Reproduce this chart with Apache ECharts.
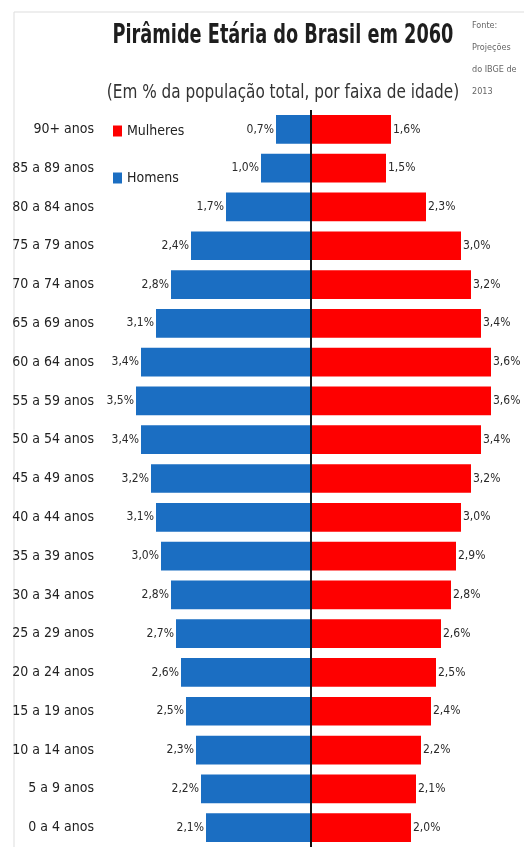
<!DOCTYPE html>
<html lang="pt">
<head>
	<meta charset="UTF-8">
	<title>Pirâmide Etária do Brasil em 2060</title>
	<script src="https://cdn.jsdelivr.net/npm/echarts@6/dist/echarts.min.js"></script>
	<style>
		html, body { margin: 0; padding: 0; background: #fff; }
		#chart { width: 524px; height: 847px; }
	</style>
</head>
<body>
	<div id="chart"></div>
	<script>
		// faixas de idade, de cima para baixo
		var faixas = ['90+ anos', '85 a 89 anos', '80 a 84 anos', '75 a 79 anos', '70 a 74 anos',
			'65 a 69 anos', '60 a 64 anos', '55 a 59 anos', '50 a 54 anos', '45 a 49 anos',
			'40 a 44 anos', '35 a 39 anos', '30 a 34 anos', '25 a 29 anos', '20 a 24 anos',
			'15 a 19 anos', '10 a 14 anos', '5 a 9 anos', '0 a 4 anos'];
		var homens = [0.7, 1.0, 1.7, 2.4, 2.8, 3.1, 3.4, 3.5, 3.4, 3.2, 3.1, 3.0, 2.8, 2.7, 2.6, 2.5, 2.3, 2.2, 2.1];
		var mulheres = [1.6, 1.5, 2.3, 3.0, 3.2, 3.4, 3.6, 3.6, 3.4, 3.2, 3.0, 2.9, 2.8, 2.6, 2.5, 2.4, 2.2, 2.1, 2.0];

		var fonte = "'Liberation Sans Narrow', 'DejaVu Sans Condensed', 'Roboto Condensed', 'Noto Sans', sans-serif";

		function pct(v) {
			return Math.abs(v).toFixed(1).replace('.', ',') + '%';
		}

		var myChart = echarts.init(document.getElementById('chart'));
		myChart.setOption({
			backgroundColor: '#fff',
			animation: false,
			textStyle: { fontFamily: fonte },
			title: {
				text: 'Fonte:\nProjeções\ndo IBGE de\n2013',
				left: 467, top: 10,
				textStyle: { fontFamily: fonte, fontSize: 9, fontWeight: 'normal', color: '#666', lineHeight: 22 }
			},
			graphic: [
				{ type: 'line', shape: { x1: 14, y1: 12, x2: 524, y2: 12 }, style: { stroke: '#ddd', lineWidth: 1 } },
				{ type: 'line', shape: { x1: 14, y1: 12, x2: 14, y2: 847 }, style: { stroke: '#ddd', lineWidth: 1 } },
				// título e subtítulo, estreitados como no original
				{
					type: 'text', x: 283, y: 22, scaleX: 0.73,
					style: {
						text: 'Pirâmide Etária do Brasil em 2060', align: 'center', verticalAlign: 'top',
						font: 'bold 27px ' + fonte, fill: '#1e1e1e'
					}
				},
				{
					type: 'text', x: 283, y: 83, scaleX: 0.85,
					style: {
						text: '(Em % da população total, por faixa de idade)', align: 'center', verticalAlign: 'top',
						font: '20px ' + fonte, fill: '#333'
					}
				}
			],
			legend: {
				orient: 'vertical',
				left: 108, top: 119,
				itemWidth: 9, itemHeight: 11, itemGap: 33,
				icon: 'rect',
				data: ['Mulheres', 'Homens'],
				textStyle: { fontFamily: fonte, fontSize: 14, color: '#222' }
			},
			grid: { left: 111, top: 110, width: 400, height: 745 },
			xAxis: {
				type: 'value', min: -4, max: 4, show: false
			},
			yAxis: {
				type: 'category', data: faixas, inverse: true,
				axisLine: { show: false }, axisTick: { show: false },
				axisLabel: { margin: 17, fontFamily: fonte, fontSize: 14, color: '#222' }
			},
			series: [{
				name: 'Homens', type: 'bar', stack: 'p',
				barWidth: '74%',
				data: homens.map(function (v) { return -v; }),
				itemStyle: { color: '#1b6ec2' },
				label: {
					show: true, position: 'left', distance: 2,
					fontFamily: fonte, fontSize: 12, color: '#2a2a2a',
					formatter: function (p) { return pct(p.value); }
				}
			}, {
				name: 'Mulheres', type: 'bar', stack: 'p',
				barWidth: '74%',
				data: mulheres,
				itemStyle: { color: '#fe0000' },
				label: {
					show: true, position: 'right', distance: 2,
					fontFamily: fonte, fontSize: 12, color: '#2a2a2a',
					formatter: function (p) { return pct(p.value); }
				},
				markLine: {
					silent: true, symbol: 'none', label: { show: false },
					lineStyle: { color: '#111', width: 2, type: 'solid' },
					data: [{ xAxis: 0 }]
				}
			}]
		});
	</script>
</body>
</html>
